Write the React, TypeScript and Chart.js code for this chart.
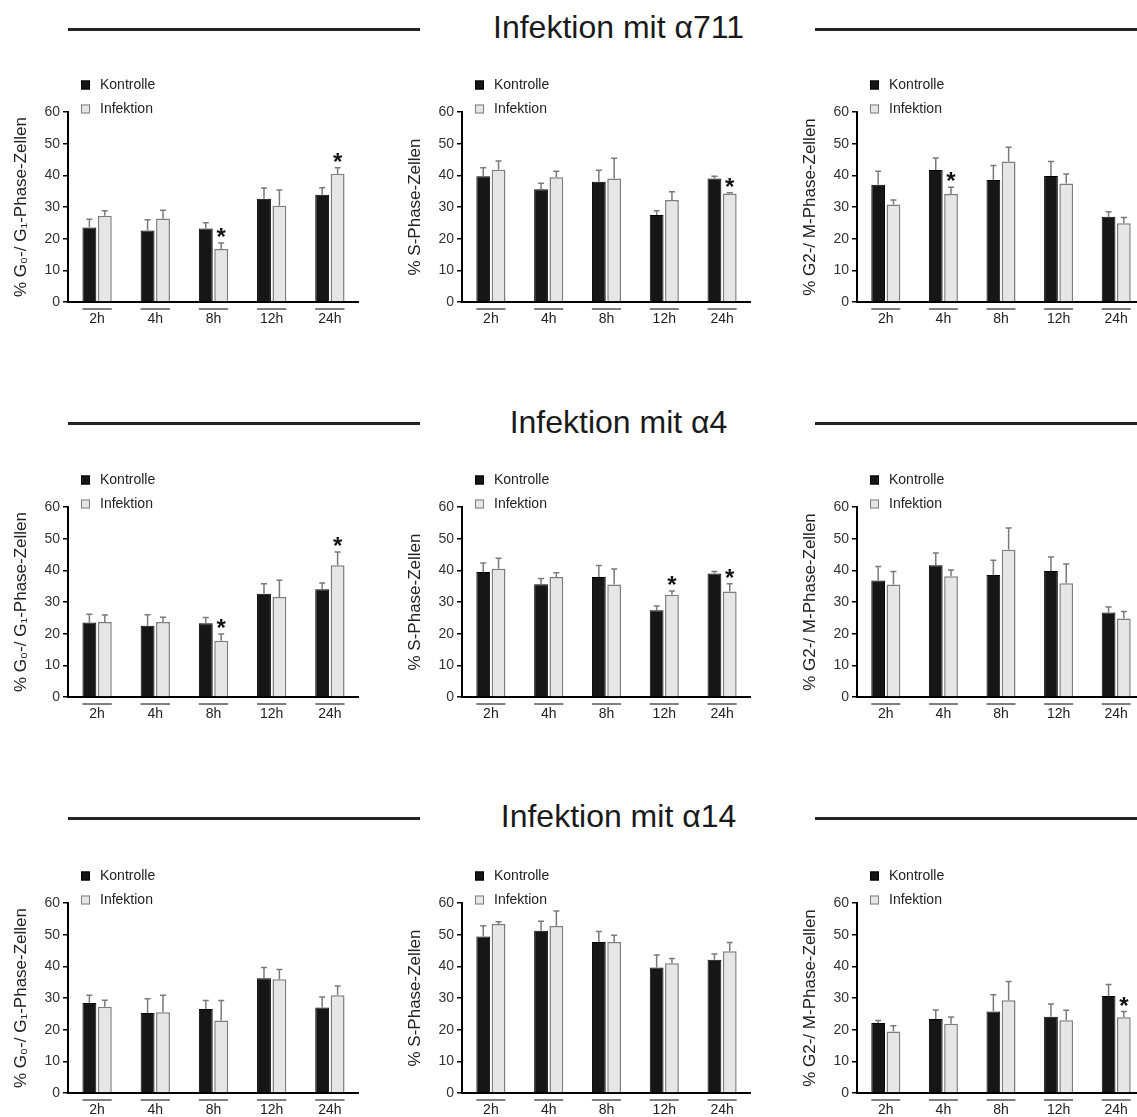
import React, { useEffect, useRef } from 'react';
import { Chart, registerables } from 'chart.js';

Chart.register(...registerables);

const FONT = '"Liberation Sans", Arial, sans-serif';

const categories = ['2h', '4h', '8h', '12h', '24h'];
const seriesLabels = ['Kontrolle', 'Infektion'];
const headerTitles = ['Infektion mit \u03b1711', 'Infektion mit \u03b14', 'Infektion mit \u03b114'];
const yTitles = ['% G\u2080-/ G\u2081-Phase-Zellen', '% S-Phase-Zellen', '% G2-/ M-Phase-Zellen'];
const yTickValues = [0, 10, 20, 30, 40, 50, 60];

// ---- Infektion mit α711 ----
const g01_a711_kontrolle = [23.5, 22.6, 23.2, 32.6, 33.9];
const g01_a711_kontrolleErr = [2.6, 3.4, 1.8, 3.4, 2.2];
const g01_a711_infektion = [27.2, 26.4, 16.7, 30.4, 40.5];
const g01_a711_infektionErr = [1.6, 2.6, 1.9, 5.0, 1.9];
const g01_a711_sig = ['8h', '24h'];

const s_a711_kontrolle = [39.7, 35.6, 38.0, 27.5, 39.0];
const s_a711_kontrolleErr = [2.7, 1.9, 3.6, 1.3, 0.7];
const s_a711_infektion = [41.8, 39.4, 39.0, 32.2, 34.3];
const s_a711_infektionErr = [2.7, 1.9, 6.4, 2.6, 0.2];
const s_a711_sig = ['24h'];

const g2m_a711_kontrolle = [37.0, 41.7, 38.5, 39.8, 26.9];
const g2m_a711_kontrolleErr = [4.3, 3.8, 4.6, 4.6, 1.6];
const g2m_a711_infektion = [30.8, 34.1, 44.4, 37.4, 24.9];
const g2m_a711_infektionErr = [1.4, 2.1, 4.5, 3.0, 1.8];
const g2m_a711_sig = ['4h'];

// ---- Infektion mit α4 ----
const g01_a4_kontrolle = [23.5, 22.5, 23.3, 32.6, 34.0];
const g01_a4_kontrolleErr = [2.6, 3.5, 1.8, 3.2, 2.0];
const g01_a4_infektion = [23.7, 23.7, 17.8, 31.6, 41.6];
const g01_a4_infektionErr = [2.2, 1.5, 2.1, 5.3, 4.2];
const g01_a4_sig = ['8h', '24h'];

const s_a4_kontrolle = [39.5, 35.6, 37.9, 27.4, 39.0];
const s_a4_kontrolleErr = [2.8, 1.8, 3.6, 1.3, 0.6];
const s_a4_infektion = [40.5, 37.9, 35.5, 32.3, 33.3];
const s_a4_infektionErr = [3.3, 1.3, 4.9, 1.2, 2.5];
const s_a4_sig = ['12h', '24h'];

const g2m_a4_kontrolle = [36.8, 41.6, 38.5, 39.8, 26.7];
const g2m_a4_kontrolleErr = [4.4, 3.9, 4.7, 4.4, 1.7];
const g2m_a4_infektion = [35.5, 38.1, 46.5, 35.9, 24.8];
const g2m_a4_infektionErr = [4.1, 2.0, 6.9, 6.1, 2.2];
const g2m_a4_sig: string[] = [];

// ---- Infektion mit α14 ----
const g01_a14_kontrolle = [28.4, 25.3, 26.5, 36.2, 27.0];
const g01_a14_kontrolleErr = [2.5, 4.5, 2.7, 3.4, 3.3];
const g01_a14_infektion = [27.2, 25.5, 22.9, 35.9, 30.9];
const g01_a14_infektionErr = [2.1, 5.4, 6.3, 3.1, 2.9];
const g01_a14_sig: string[] = [];

const s_a14_kontrolle = [49.4, 51.2, 47.7, 39.6, 42.1];
const s_a14_kontrolleErr = [3.4, 3.0, 3.3, 4.0, 1.8];
const s_a14_infektion = [53.4, 52.7, 47.7, 41.0, 44.8];
const s_a14_infektionErr = [0.7, 4.8, 2.1, 1.5, 2.7];
const s_a14_sig: string[] = [];

const g2m_a14_kontrolle = [22.1, 23.4, 25.7, 24.1, 30.6];
const g2m_a14_kontrolleErr = [0.8, 2.8, 5.3, 4.0, 3.7];
const g2m_a14_infektion = [19.4, 21.9, 29.3, 23.0, 23.9];
const g2m_a14_infektionErr = [1.8, 2.1, 5.9, 3.1, 1.8];
const g2m_a14_sig = ['24h'];

type Panel = {
  yTitle: string;
  k: number[];
  kErr: number[];
  inf: number[];
  infErr: number[];
  sig: string[];
};

const rows: Panel[][] = [
  [
    { yTitle: yTitles[0], k: g01_a711_kontrolle, kErr: g01_a711_kontrolleErr, inf: g01_a711_infektion, infErr: g01_a711_infektionErr, sig: g01_a711_sig },
    { yTitle: yTitles[1], k: s_a711_kontrolle, kErr: s_a711_kontrolleErr, inf: s_a711_infektion, infErr: s_a711_infektionErr, sig: s_a711_sig },
    { yTitle: yTitles[2], k: g2m_a711_kontrolle, kErr: g2m_a711_kontrolleErr, inf: g2m_a711_infektion, infErr: g2m_a711_infektionErr, sig: g2m_a711_sig },
  ],
  [
    { yTitle: yTitles[0], k: g01_a4_kontrolle, kErr: g01_a4_kontrolleErr, inf: g01_a4_infektion, infErr: g01_a4_infektionErr, sig: g01_a4_sig },
    { yTitle: yTitles[1], k: s_a4_kontrolle, kErr: s_a4_kontrolleErr, inf: s_a4_infektion, infErr: s_a4_infektionErr, sig: s_a4_sig },
    { yTitle: yTitles[2], k: g2m_a4_kontrolle, kErr: g2m_a4_kontrolleErr, inf: g2m_a4_infektion, infErr: g2m_a4_infektionErr, sig: g2m_a4_sig },
  ],
  [
    { yTitle: yTitles[0], k: g01_a14_kontrolle, kErr: g01_a14_kontrolleErr, inf: g01_a14_infektion, infErr: g01_a14_infektionErr, sig: g01_a14_sig },
    { yTitle: yTitles[1], k: s_a14_kontrolle, kErr: s_a14_kontrolleErr, inf: s_a14_infektion, infErr: s_a14_infektionErr, sig: s_a14_sig },
    { yTitle: yTitles[2], k: g2m_a14_kontrolle, kErr: g2m_a14_kontrolleErr, inf: g2m_a14_infektion, infErr: g2m_a14_infektionErr, sig: g2m_a14_sig },
  ],
];

// layout (page pixels)
const colAxisX = [67.5, 462, 857];
const colAreaW = [290.5, 288.6, 287.8];
const rowAreaTop = [112.3, 506.7, 902.7];
const headerLineY = [29, 423.5, 818];
const AREA_H = 190;
const PAD_TOP = 60;
const PAD_LEFT = 9;
const Y_AXIS_W = 61;
const X_AXIS_H = 30;

const annotPlugin = {
  id: 'annot',
  afterDatasetsDraw(chart: any) {
    const { ctx, chartArea } = chart;
    const y = chart.scales.y;
    ctx.save();
    // error bars + significance stars
    chart.data.datasets.forEach((ds: any, di: number) => {
      const meta = chart.getDatasetMeta(di);
      meta.data.forEach((el: any, i: number) => {
        const p = el.getProps(['x', 'y', 'width'], true);
        const v = ds.data[i];
        const e = ds.errors[i];
        const yTop = y.getPixelForValue(v + e);
        ctx.strokeStyle = '#7a7a7a';
        ctx.lineWidth = 1.5;
        ctx.beginPath();
        ctx.moveTo(p.x, p.y);
        ctx.lineTo(p.x, yTop);
        ctx.moveTo(p.x - 3, yTop);
        ctx.lineTo(p.x + 3, yTop);
        ctx.stroke();
        if (ds.sig && ds.sig.indexOf(chart.data.labels[i]) >= 0) {
          ctx.fillStyle = '#111';
          ctx.font = 'bold 24px ' + FONT;
          ctx.textAlign = 'center';
          ctx.textBaseline = 'alphabetic';
          ctx.fillText('*', p.x, yTop + 2);
        }
      });
    });
    // category underlines
    const m0 = chart.getDatasetMeta(0);
    const m1 = chart.getDatasetMeta(1);
    ctx.strokeStyle = '#555';
    ctx.lineWidth = 1.5;
    m0.data.forEach((el: any, i: number) => {
      const a = el.getProps(['x', 'width'], true);
      const b = m1.data[i].getProps(['x', 'width'], true);
      const yl = chartArea.bottom + 7;
      ctx.beginPath();
      ctx.moveTo(a.x - a.width / 2, yl);
      ctx.lineTo(b.x + b.width / 2, yl);
      ctx.stroke();
    });
    // legend
    chart.data.datasets.forEach((ds: any, di: number) => {
      const cy = chartArea.top - 27 + di * 24;
      const sx = chartArea.left + 13;
      ctx.fillStyle = ds.backgroundColor;
      ctx.fillRect(sx, cy - 4.5, 9, 9);
      ctx.strokeStyle = ds.borderColor;
      ctx.lineWidth = 1;
      ctx.strokeRect(sx + 0.5, cy - 4, 8, 8);
      ctx.fillStyle = '#222';
      ctx.font = '14px ' + FONT;
      ctx.textAlign = 'left';
      ctx.textBaseline = 'middle';
      ctx.fillText(ds.label, chartArea.left + 32, cy);
    });
    ctx.restore();
  },
};

function BarPanel({ panel, left, top, width }: { panel: Panel; left: number; top: number; width: number }) {
  const ref = useRef<HTMLCanvasElement>(null);
  const height = PAD_TOP + AREA_H + X_AXIS_H;
  useEffect(() => {
    const chart = new Chart(ref.current as HTMLCanvasElement, {
      type: 'bar',
      data: {
        labels: categories,
        datasets: [
          {
            label: seriesLabels[0],
            data: panel.k,
            backgroundColor: '#161616',
            borderColor: '#000000',
            borderWidth: 1,
            errors: panel.kErr,
          } as any,
          {
            label: seriesLabels[1],
            data: panel.inf,
            backgroundColor: '#e6e6e6',
            borderColor: '#7d7d7d',
            borderWidth: 1.5,
            errors: panel.infErr,
            sig: panel.sig,
          } as any,
        ],
      },
      options: {
        animation: false,
        responsive: false,
        maintainAspectRatio: false,
        layout: { padding: { left: PAD_LEFT, top: PAD_TOP, right: 0, bottom: 0 } },
        datasets: { bar: { categoryPercentage: 0.53, barPercentage: 0.9 } },
        plugins: { legend: { display: false }, tooltip: { enabled: false } },
        scales: {
          x: {
            grid: { display: false, drawTicks: false, tickLength: 0 },
            border: { display: true, color: '#000', width: 2 },
            ticks: { color: '#222', font: { family: FONT, size: 14 }, padding: 9, maxRotation: 0, autoSkip: false },
            afterFit: (s: any) => { s.height = X_AXIS_H; },
          },
          y: {
            min: 0,
            max: 60,
            afterBuildTicks: (s: any) => { s.ticks = yTickValues.map((v) => ({ value: v })); },
            ticks: { color: '#333', font: { family: FONT, size: 14 }, padding: 3 },
            grid: { display: true, drawOnChartArea: false, drawTicks: true, tickLength: 5, color: '#000', lineWidth: 1.5 },
            border: { display: true, color: '#000', width: 2 },
            title: { display: true, text: panel.yTitle, color: '#222', font: { family: FONT, size: 17 }, padding: { top: 4, bottom: 4 } },
            afterFit: (s: any) => { s.width = Y_AXIS_W; },
          },
        },
      } as any,
      plugins: [annotPlugin],
    });
    return () => chart.destroy();
  }, []);
  return (
    <canvas
      ref={ref}
      width={width}
      height={height}
      style={{ position: 'absolute', left, top, width, height }}
    />
  );
}

function Header({ text, lineY }: { text: string; lineY: number }) {
  return (
    <>
      <div style={{ position: 'absolute', left: 68, top: lineY - 1.5, width: 352, height: 3, background: '#222' }} />
      <div style={{ position: 'absolute', left: 815, top: lineY - 1.5, width: 330, height: 3, background: '#222' }} />
      <div
        style={{
          position: 'absolute',
          left: 420,
          width: 397,
          top: lineY - 17.8,
          textAlign: 'center',
          fontFamily: FONT,
          fontSize: 32,
          lineHeight: '32px',
          color: '#1a1a1a',
          whiteSpace: 'nowrap',
        }}
      >
        {text}
      </div>
    </>
  );
}

export default function App() {
  return (
    <div style={{ position: 'absolute', left: 0, top: 0, width: 1137, height: 1117, overflow: 'hidden', background: '#fff' }}>
      {rows.map((row, ri) => (
        <React.Fragment key={ri}>
          <Header text={headerTitles[ri]} lineY={headerLineY[ri]} />
          {row.map((panel, ci) => {
            const left = colAxisX[ci] - PAD_LEFT - Y_AXIS_W;
            const width = Math.round(PAD_LEFT + Y_AXIS_W + colAreaW[ci]);
            const top = rowAreaTop[ri] - PAD_TOP;
            return <BarPanel key={ci} panel={panel} left={left} top={top} width={width} />;
          })}
        </React.Fragment>
      ))}
    </div>
  );
}
